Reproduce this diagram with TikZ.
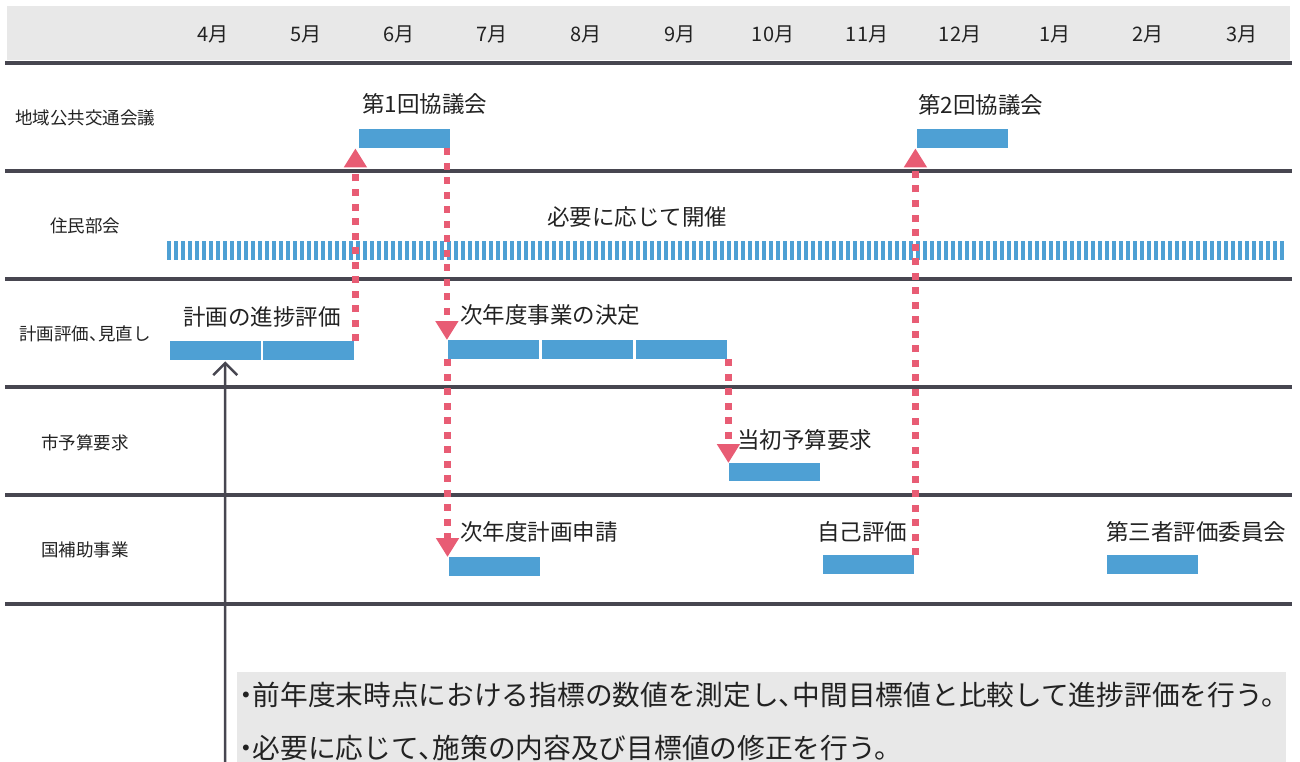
\documentclass[tikz,border=0pt]{standalone}
\usepackage{fontspec}
\setmainfont{Noto Sans CJK JP}
\usetikzlibrary{arrows.meta,calc}
\definecolor{barblue}{HTML}{4EA0D4}
\definecolor{pinkc}{HTML}{E85C74}
\definecolor{rulec}{HTML}{474650}
\definecolor{bandc}{HTML}{E8E8E8}
\definecolor{txt}{HTML}{222222}
\newcommand{\hdot}{\makebox[0.45em][c]{・}}
\newcommand{\hcomma}{\makebox[0.5em][l]{、}}
\tikzset{
  bar/.style={fill=barblue, minimum width=91pt, minimum height=19pt, inner sep=0pt, anchor=north west},
  ttl/.style={font=\fontsize{22.5pt}{27pt}\selectfont, text=txt, inner sep=0pt, anchor=west},
  rowlab/.style={font=\fontsize{17.5pt}{21pt}\selectfont, text=txt, inner sep=0pt},
  mon/.style={font=\fontsize{20pt}{24pt}\selectfont, text=txt, inner sep=0pt},
  notetext/.style={font=\fontsize{27.7pt}{32pt}\selectfont, text=txt, inner sep=0pt, anchor=west},
  rowrule/.style={draw=rulec, line width=4pt},
  pinkarrow/.style={draw=pinkc, line width=6.5pt, dash pattern=on 7pt off 7.5pt, -{Triangle[width=22pt,length=19pt]}, pinkc},
}
\begin{document}
\begin{tikzpicture}[x=1pt,y=-1pt]
\useasboundingbox (0,0) rectangle (1300,762);
% header band
\fill[bandc] (7,6) rectangle (1290,60);
% note box
\fill[bandc] (237,672) rectangle (1286,762);
% row rules
\foreach \yy in {63,171,279,387,495,604}{
  \draw[rowrule] (5,\yy) -- (1292,\yy);
}
% months
\foreach \m/\xx in {4月/213,5月/306,6月/399,7月/492,8月/586,9月/680,10月/773,11月/867,12月/960,1月/1055,2月/1148,3月/1242}{
  \node[mon] at (\xx,34) {\m};
}
% row labels
\node[rowlab] (r1) at (85,118) {地域公共交通会議};
\node[rowlab] (r2) at (85,226) {住民部会};
\node[rowlab] (r3) at (85,334) {計画評価\hcomma 見直し};
\node[rowlab] (r4) at (85,443) {市予算要求};
\node[rowlab] (r5) at (85,550) {国補助事業};
% resident strip
\coordinate (stripA) at (167,250.5);
\coordinate (stripB) at (1285,250.5);
\draw[barblue, line width=19pt, dash pattern=on 4pt off 3pt] (stripA) -- (stripB);
% bars
\node[bar] (k1) at (359,129) {};
\node[bar] (k2) at (917,129) {};
\node[bar] (e1) at (170,341) {};
\node[bar] (e2) at (263,341) {};
\node[bar] (d1) at (448,340) {};
\node[bar] (d2) at (542,340) {};
\node[bar] (d3) at (636,340) {};
\node[bar, minimum height=18pt] (t1) at (729,463) {};
\node[bar] (s1) at (449,557) {};
\node[bar] (j1) at (823,555) {};
\node[bar] (m1) at (1107,555) {};
% titles
\node[ttl] (lk1) at (362,104) {第1回協議会};
\node[ttl] (lk2) at (918,105) {第2回協議会};
\node[ttl, anchor=center] (lst) at (637,217) {必要に応じて開催};
\node[ttl] (le) at (183,317) {計画の進捗評価};
\node[ttl] (ld) at (460,315) {次年度事業の決定};
\node[ttl] (lt) at (737,440) {当初予算要求};
\node[ttl] (ls) at (460,532) {次年度計画申請};
\node[ttl] (lj) at (817,532) {自己評価};
\node[ttl] (lm) at (1106,532) {第三者評価委員会};
% pink arrows
\coordinate (a1) at ($(e2.north east)+(1,0)$);
\coordinate (a2) at ($(k1.south east)+(-3.5,0)$);
\coordinate (a3) at ($(d1.south west)+(-0.5,0)$);
\coordinate (a4) at ($(d3.south east)+(1,0)$);
\coordinate (a5) at ($(j1.north east)+(1,0)$);
\draw[pinkarrow] (a1) -- (a1 |- k1.south);
\draw[pinkarrow] (a2) -- (a2 |- d1.north);
\draw[pinkarrow] (a3) -- (a3 |- s1.north);
\draw[pinkarrow] (a4) -- (a4 |- t1.north);
\draw[pinkarrow] (a5) -- (a5 |- k2.south);
% note
\node[notetext] (n1) at (240,695) {\hdot 前年度末時点における指標の数値を測定し\hcomma 中間目標値と比較して進捗評価を行う。};
\node[notetext] (n2) at (240,748) {\hdot 必要に応じて\hcomma 施策の内容及び目標値の修正を行う。};
% black arrow
\coordinate (nb) at (225,762);
\draw[rulec, line width=2.5pt, -{Straight Barb[width=24pt,length=12pt,line width=2.5pt]}] (nb) -- ($(e1.south)+(9.5,1)$);
\end{tikzpicture}
\end{document}
